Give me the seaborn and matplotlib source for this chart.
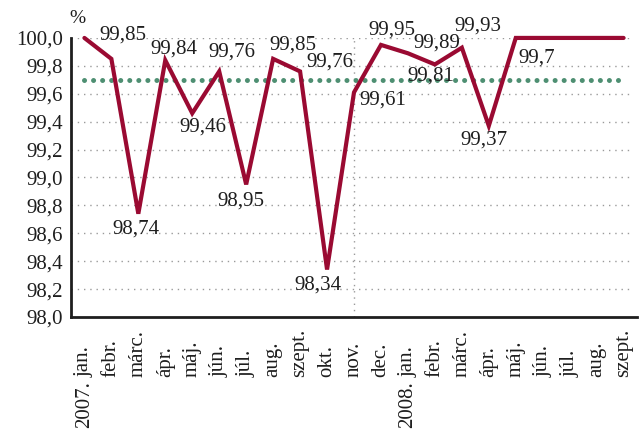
""" Rendelkezésre állás, 2007-2008 """

import numpy as np
import pandas as pd
import matplotlib
matplotlib.use('Agg')
import matplotlib.pyplot as plt
from matplotlib.ticker import FixedLocator, FuncFormatter
import seaborn as sns

months = ['jan.', 'febr.', 'márc.', 'ápr.', 'máj.', 'jún.', 'júl.', 'aug.',
          'szept.', 'okt.', 'nov.', 'dec.', 'jan.', 'febr.', 'márc.', 'ápr.',
          'máj.', 'jún.', 'júl.', 'aug.', 'szept.']
years = {0: '2007.', 12: '2008.'}
values = [100.0, 99.85, 98.74, 99.84, 99.46, 99.76, 98.95, 99.85, 99.76, 98.34,
          99.61, 99.95, 99.89, 99.81, 99.93, 99.37, 100.0, 100.0, 100.0, 100.0, 100.0]
target = 99.7

# which points get a value label, and where (offset in pixels from the point)
label_idx = [1, 2, 3, 4, 5, 6, 7, 8, 9, 10, 11, 12, 13, 14, 15]
label_off = [(12, 24), (-2, -15), (9, 11), (11, -14), (13, 19), (-5, -17), (20, 14),
             (30, 9), (-9, -16), (29, -8), (11, 15), (29, 10), (-4, -12), (16, 22),
             (-5, -14)]

df = pd.DataFrame({'pos': np.arange(len(months)), 'value': values,
                   'target': [target] * len(months)})

sns.set_style('white')
plt.rcParams['font.family'] = ['Liberation Serif', 'DejaVu Serif']

fig = plt.figure(figsize=(6.39, 4.36), dpi=100)
ax = fig.add_axes([0.111, 0.273, 0.886, 0.640])

red = '#9a0a32'
green = '#4e8f72'
ink = '#1e1e1e'
fs = 15
px = 0.72  # points per pixel

ax.set_xlim(-0.5, len(months) - 0.5)
ax.set_ylim(98.0, 100.0)

for y in np.arange(98.2, 100.01, 0.2):
    ax.axhline(y, color='#9a9a9a', lw=1.0, ls=(0, (1, 3.5)), zorder=0, xmax=0.99)
ax.axvline(10, color='#9a9a9a', lw=1.0, ls=(0, (1, 3.5)), zorder=0)

sns.lineplot(data=df, x='pos', y='target', ax=ax, color=green, lw=3.6,
             linestyle=(0, (0.01, 1.8)), dash_capstyle='round', zorder=2)
sns.lineplot(data=df, x='pos', y='value', ax=ax, color=red, lw=3,
             solid_joinstyle='miter', clip_on=False, zorder=3)

for i, (dx, dy) in zip(label_idx, label_off):
    ax.annotate(f'{values[i]:.2f}'.replace('.', ','), (i, values[i]),
                xytext=(dx * px, dy * px), textcoords='offset points',
                ha='center', va='center', fontsize=fs, color=ink)

# value of the target line
ax.annotate(f'{target}'.replace('.', ','), (16.76, target),
            xytext=(0, 16), textcoords='offset points',
            ha='center', va='center', fontsize=fs, color=ink)

ax.text(0.012, 1.07, '%', transform=ax.transAxes, fontsize=fs - 1,
        ha='center', va='center', color=ink)

ax.set_xlabel('')
ax.set_ylabel('')

# month labels start at a common line; the year hangs below it
ax.xaxis.set_major_locator(FixedLocator(np.arange(len(months))))
ax.set_xticklabels(months, rotation=90, rotation_mode='anchor', ha='left',
                   va='center', fontsize=fs, color=ink)
ax.xaxis.set_minor_locator(FixedLocator(np.arange(-0.5, len(months), 1.0)))
ax.tick_params(axis='x', which='major', length=0, pad=60 * px)
ax.tick_params(axis='x', which='minor', length=4, width=2, direction='out', color=ink)
for i, yr in years.items():
    ax.annotate(yr, (i, 0), xycoords=ax.get_xaxis_transform(),
                xytext=(0, -64 * px), textcoords='offset points',
                rotation=90, rotation_mode='anchor', ha='right', va='center',
                fontsize=fs, color=ink)

ax.yaxis.set_major_locator(FixedLocator(np.arange(98.0, 100.01, 0.2)))
ax.yaxis.set_major_formatter(FuncFormatter(lambda v, p: f'{v:.1f}'.replace('.', ',')))
ax.tick_params(axis='y', length=4, width=2, direction='out', color=ink,
               labelsize=fs, labelcolor=ink, pad=2)

for s in ['top', 'right']:
    ax.spines[s].set_visible(False)
for s in ['left', 'bottom']:
    ax.spines[s].set_linewidth(2)
    ax.spines[s].set_color(ink)

fig.savefig('out.png', dpi=100)
